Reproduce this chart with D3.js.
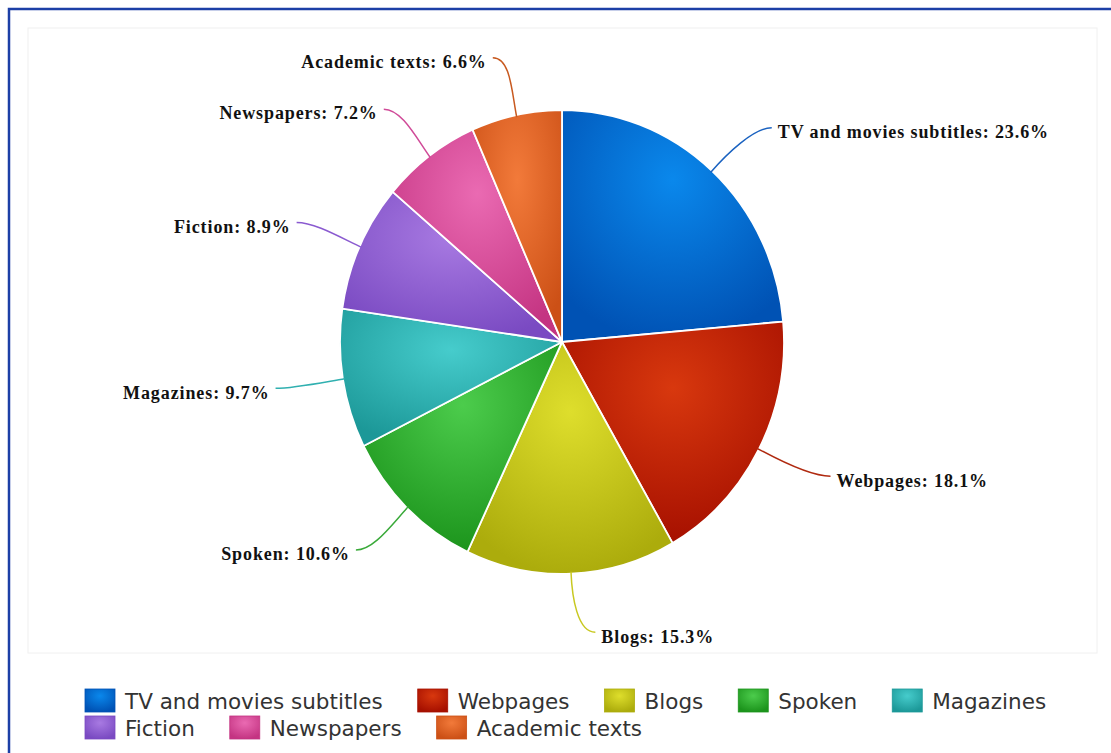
<!DOCTYPE html>
<html>
<head>
<meta charset="utf-8">
<script src="https://cdn.jsdelivr.net/npm/d3@7"></script>
<style>
  html, body { margin: 0; padding: 0; background: #fff; overflow: hidden; }
  svg { display: block; }
</style>
</head>
<body>
<svg id="chart" width="1111" height="753"></svg>
<script>
// data
const categories = ['TV and movies subtitles', 'Webpages', 'Blogs', 'Spoken', 'Magazines', 'Fiction', 'Newspapers', 'Academic texts'];
const shares = [23.6, 18.1, 15.3, 10.6, 9.7, 8.9, 7.2, 6.6];
const lightColors = ['#0a88ec', '#d8380e', '#dede2c', '#4ccc4c', '#46cccc', '#a87ae2', '#ea6ab2', '#f27a3a'];
const darkColors = ['#0052b4', '#a61000', '#acac0c', '#1c941c', '#1c9898', '#7a4ac2', '#c43482', '#cc5016'];
const lineColors = ['#1a62c0', '#b02a10', '#c8c820', '#3aaa3a', '#30b0b0', '#8a5ad0', '#d04a98', '#c85a20'];

const svg = d3.select('#chart');
const W = 1111, H = 753;

// outer frame and plot area
svg.append('rect')
    .attr('x', 9).attr('y', 9)
    .attr('width', W + 20).attr('height', H + 20)
    .attr('fill', '#fff')
    .attr('stroke', '#1c3fa6')
    .attr('stroke-width', 2.5);

svg.append('rect')
    .attr('x', 28).attr('y', 28)
    .attr('width', 1069).attr('height', 625)
    .attr('fill', 'none')
    .attr('stroke', '#f0f0f0')
    .attr('stroke-width', 1);

const cx = 562, cy = 342, R = 222, yStretch = 1.045;

const defs = svg.append('defs');
categories.forEach((c, i) => {
    const g = defs.append('radialGradient')
        .attr('id', 'grad' + i)
        .attr('cx', 0.5).attr('cy', 0.3).attr('r', 0.7);
    g.append('stop').attr('offset', 0).attr('stop-color', lightColors[i]);
    g.append('stop').attr('offset', 1).attr('stop-color', darkColors[i]);
});

const pie = d3.pie().sort(null).value(d => d);
const arcs = pie(shares);
const arc = d3.arc().innerRadius(0).outerRadius(R);

const pieG = svg.append('g')
    .attr('transform', `translate(${cx},${cy}) scale(1,${yStretch})`);

pieG.selectAll('.slice')
    .data(arcs)
    .enter()
    .append('path')
    .attr('class', 'slice')
    .attr('d', arc)
    .attr('fill', (d, i) => `url(#grad${i})`)
    .attr('stroke', '#fff')
    .attr('stroke-width', 1.8)
    .attr('stroke-linejoin', 'round');

// data labels with connectors
const labelR = R + 56;
const labelsG = svg.append('g');

arcs.forEach((d, i) => {
    const a = (d.startAngle + d.endAngle) / 2;
    const s = Math.sin(a), c = Math.cos(a);
    const side = s >= 0 ? 1 : -1;
    const pad = side > 0 ? 22 : 12;
    const ex = cx + (R - 2) * s, ey = cy - (R - 2) * c * yStretch;
    const mx = cx + (R + 22) * s, my = cy - (R + 22) * c * yStretch;
    const ly = cy - labelR * c * yStretch;
    const lx = cx + labelR * s + side * pad;

    const path = d3.path();
    path.moveTo(ex, ey);
    path.bezierCurveTo(mx, my, lx - side * 18, ly, lx, ly);
    labelsG.append('path')
        .attr('d', path.toString())
        .attr('fill', 'none')
        .attr('stroke', lineColors[i])
        .attr('stroke-width', 1.5);

    labelsG.append('text')
        .attr('x', lx + side * 6)
        .attr('y', ly + 4)
        .attr('dy', '0.35em')
        .attr('text-anchor', side > 0 ? 'start' : 'end')
        .attr('font-family', '"Liberation Serif", "Times New Roman", serif')
        .attr('font-weight', 'bold')
        .attr('font-size', '18px')
        .attr('letter-spacing', '0.9px')
        .attr('fill', '#111')
        .text(`${categories[i]}: ${shares[i]}%`);
});

// legend
const legendG = svg.append('g');
const legendX0 = 85, legendMaxX = 1060, rowH = 27, row0 = 689;
let lx = legendX0, row = 0;
categories.forEach((c, i) => {
    const item = legendG.append('g');
    const t = item.append('text')
        .attr('x', 40)
        .attr('y', 12.5)
        .attr('dy', '0.36em')
        .attr('font-family', '"DejaVu Sans", "Lucida Grande", sans-serif')
        .attr('font-size', '21.5px')
        .attr('fill', '#333')
        .text(c);
    const w = 40 + t.node().getComputedTextLength();
    if (lx + w > legendMaxX) { row += 1; lx = legendX0; }
    item.attr('transform', `translate(${lx},${row0 + row * rowH})`);
    item.insert('rect', 'text')
        .attr('width', 30).attr('height', 23)
        .attr('fill', `url(#grad${i})`)
        .attr('stroke', darkColors[i])
        .attr('stroke-width', 0.8);
    lx += w + 35;
});
</script>
</body>
</html>
